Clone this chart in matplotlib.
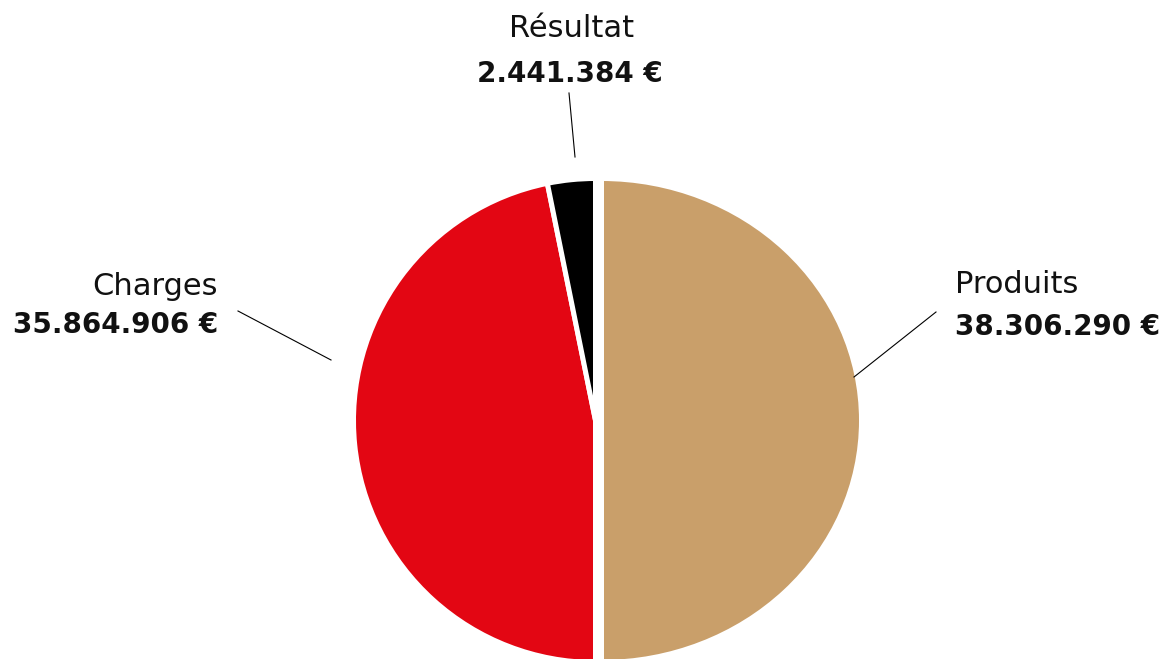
import matplotlib
matplotlib.use("Agg")
import matplotlib.pyplot as plt
import numpy as np
from matplotlib.transforms import Affine2D

# data
labels = ["Produits", "Charges", "Résultat"]
values = [38306290, 35864906, 2441384]
value_labels = ["38.306.290 €", "35.864.906 €", "2.441.384 €"]
colors = ["#C99F6A", "#E30613", "#000000"]

W, H = 1171, 659
PX = 242.0            # pixels per data unit (pie radius)
CX, CY = 595.5, 420.5  # pie centre, pixels from top-left


def px(x, y):
    return (x - CX) / PX, (CY - y) / PX


fig = plt.figure(figsize=(W / 100, H / 100), dpi=100)
ax = fig.add_axes([0, 0, 1, 1])

wedges, _ = ax.pie(
    values,
    colors=colors,
    startangle=90,
    counterclock=False,
    radius=1,
    wedgeprops=dict(edgecolor="white", linewidth=3.6),
)

# the Produits half is pushed right and drawn a bit wider
wedges[0].set_transform(Affine2D().scale(1.0744, 1).translate(6 / PX, 0) + ax.transData)

ax.set_xlim(-CX / PX, (W - CX) / PX)
ax.set_ylim(-(H - CY) / PX, CY / PX)
ax.set_aspect("auto")
ax.axis("off")

name_kw = dict(fontsize=22, family="DejaVu Sans", color="#111111", va="baseline")
num_kw = dict(fontsize=20, family="DejaVu Sans", weight="bold", color="#111111", va="baseline")

# Produits
ax.text(*px(955, 293), labels[0], ha="left", **name_kw)
ax.text(*px(955, 335), value_labels[0], ha="left", **num_kw)
ax.plot(*zip(px(936, 312), px(854, 377)), color="black", lw=0.8)

# Charges
ax.text(*px(218, 295), labels[1], ha="right", **name_kw)
ax.text(*px(218, 333), value_labels[1], ha="right", **num_kw)
ax.plot(*zip(px(238, 311), px(331, 360)), color="black", lw=0.8)

# Résultat
ax.text(*px(572, 37), labels[2], ha="center", **name_kw)
ax.text(*px(569.5, 82), value_labels[2], ha="center", **num_kw)
ax.plot(*zip(px(569, 93), px(575, 157)), color="black", lw=0.8)

fig.savefig("out.png", dpi=100)
